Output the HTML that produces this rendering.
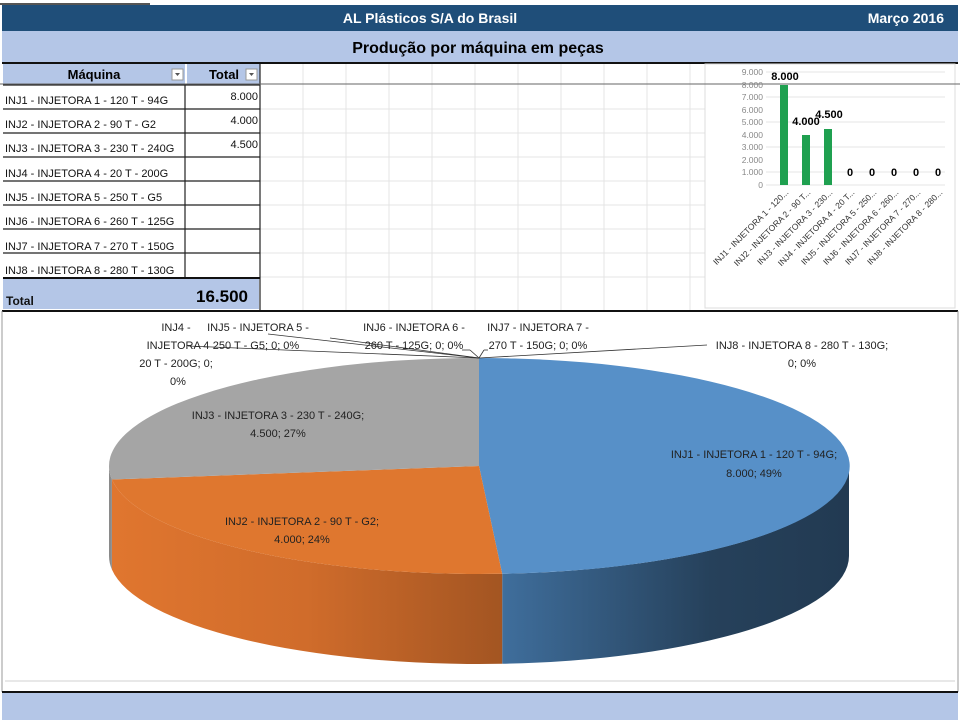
<!DOCTYPE html>
<html><head><meta charset="utf-8"><style>
body{margin:0;background:#fff;width:960px;height:720px;overflow:hidden;font-family:"Liberation Sans",sans-serif}
</style></head><body>
<svg width="960" height="720" xmlns="http://www.w3.org/2000/svg" font-family="Liberation Sans, sans-serif">
<defs>
<linearGradient id="bs" x1="502" x2="849" gradientUnits="userSpaceOnUse" y1="0" y2="0"><stop offset="0" stop-color="#3f6e9c"/><stop offset="0.6" stop-color="#26415b"/><stop offset="1" stop-color="#223a52"/></linearGradient>
<linearGradient id="os" x1="110" x2="502" gradientUnits="userSpaceOnUse" y1="0" y2="0"><stop offset="0" stop-color="#e0762f"/><stop offset="0.5" stop-color="#d06c2b"/><stop offset="1" stop-color="#a35522"/></linearGradient>
</defs>
<rect width="960" height="720" fill="#fff"/>
<line x1="0" y1="4" x2="150" y2="4" stroke="#555" stroke-width="2"/>
<rect x="2" y="5" width="956" height="26" fill="#1f4e79"/>
<text x="430" y="23" fill="#fff" font-size="14" font-weight="bold" text-anchor="middle">AL Plásticos S/A do Brasil</text>
<text x="944" y="23" fill="#fff" font-size="14" font-weight="bold" text-anchor="end">Março  2016</text>
<rect x="2" y="31" width="956" height="32" fill="#b4c6e7"/>
<text x="478" y="53" fill="#000" font-size="16" font-weight="bold" text-anchor="middle">Produção por máquina em peças</text>
<line x1="2" y1="63" x2="958" y2="63" stroke="#111" stroke-width="2"/>
<!-- grid -->
<g stroke="#e4e4e4" stroke-width="1">
<line x1="303" y1="64" x2="303" y2="310"/><line x1="346" y1="64" x2="346" y2="310"/><line x1="389" y1="64" x2="389" y2="310"/><line x1="432" y1="64" x2="432" y2="310"/><line x1="475" y1="64" x2="475" y2="310"/><line x1="518" y1="64" x2="518" y2="310"/><line x1="561" y1="64" x2="561" y2="310"/><line x1="604" y1="64" x2="604" y2="310"/><line x1="647" y1="64" x2="647" y2="310"/><line x1="690" y1="64" x2="690" y2="310"/>
<line x1="260" y1="109" x2="705" y2="109"/><line x1="260" y1="133" x2="705" y2="133"/><line x1="260" y1="157" x2="705" y2="157"/><line x1="260" y1="181" x2="705" y2="181"/><line x1="260" y1="205" x2="705" y2="205"/><line x1="260" y1="229" x2="705" y2="229"/><line x1="260" y1="253" x2="705" y2="253"/><line x1="260" y1="277" x2="705" y2="277"/>
</g>
<!-- table -->
<rect x="3" y="64" width="182" height="20" fill="#b4c6e7"/>
<rect x="187" y="64" width="73" height="20" fill="#b4c6e7"/>
<text x="94" y="79" font-size="13" font-weight="bold" text-anchor="middle">Máquina</text>
<text x="224" y="79" font-size="13" font-weight="bold" text-anchor="middle">Total</text>
<rect x="172" y="69" width="11" height="11" fill="#fff" stroke="#999"/><path d="M175 73 L180 73 L177.5 76Z" fill="#555"/>
<rect x="246" y="69" width="11" height="11" fill="#fff" stroke="#999"/><path d="M249 73 L254 73 L251.5 76Z" fill="#555"/>
<g stroke="#222" stroke-width="1.2">
<line x1="3" y1="85" x2="260" y2="85"/><line x1="3" y1="109" x2="260" y2="109"/><line x1="3" y1="133" x2="260" y2="133"/><line x1="3" y1="157" x2="260" y2="157"/><line x1="3" y1="181" x2="260" y2="181"/><line x1="3" y1="205" x2="260" y2="205"/><line x1="3" y1="229" x2="260" y2="229"/><line x1="3" y1="253" x2="260" y2="253"/>
<line x1="185" y1="85" x2="185" y2="277"/><line x1="260" y1="64" x2="260" y2="310"/>
</g>
<line x1="3" y1="278" x2="260" y2="278" stroke="#111" stroke-width="2"/>
<rect x="3" y="279" width="256" height="30" fill="#b4c6e7"/>
<g font-size="11" fill="#111">
<text x="5" y="104">INJ1 - INJETORA 1 - 120 T - 94G</text>
<text x="5" y="128">INJ2 - INJETORA 2  - 90 T - G2</text>
<text x="5" y="152">INJ3 - INJETORA 3 - 230 T - 240G</text>
<text x="5" y="177">INJ4 - INJETORA 4 - 20 T - 200G</text>
<text x="5" y="201">INJ5 - INJETORA 5 - 250 T -  G5</text>
<text x="5" y="225">INJ6 - INJETORA 6 - 260 T - 125G</text>
<text x="5" y="250">INJ7 - INJETORA 7 - 270 T - 150G</text>
<text x="5" y="274">INJ8 - INJETORA 8 - 280 T - 130G</text>
<text x="258" y="100" text-anchor="end">8.000</text>
<text x="258" y="124" text-anchor="end">4.000</text>
<text x="258" y="148" text-anchor="end">4.500</text>
<text x="6" y="305" font-weight="bold" font-size="12">Total</text>
</g>
<text x="248" y="302" font-size="17" font-weight="bold" text-anchor="end">16.500</text>
<line x1="2" y1="311" x2="958" y2="311" stroke="#111" stroke-width="2"/>
<!-- bar chart -->
<rect x="705" y="64" width="250" height="244" fill="#fff" stroke="#ddd"/>
<line x1="0" y1="84" x2="960" y2="84" stroke="#666" stroke-width="1"/>
<g stroke="#e6e6e6"><line x1="766" y1="72" x2="945" y2="72"/><line x1="766" y1="97" x2="945" y2="97"/><line x1="766" y1="122" x2="945" y2="122"/><line x1="766" y1="147" x2="945" y2="147"/><line x1="766" y1="172" x2="945" y2="172"/><line x1="766" y1="185" x2="945" y2="185"/></g>
<g font-size="8.5" fill="#888" text-anchor="end">
<text x="763" y="75">9.000</text><text x="763" y="88">8.000</text><text x="763" y="100">7.000</text><text x="763" y="113">6.000</text><text x="763" y="125">5.000</text><text x="763" y="138">4.000</text><text x="763" y="150">3.000</text><text x="763" y="163">2.000</text><text x="763" y="175">1.000</text><text x="763" y="188">0</text>
</g>
<rect x="780" y="85" width="8" height="100" fill="#1fa050"/>
<rect x="802" y="135" width="8" height="50" fill="#1fa050"/>
<rect x="824" y="129" width="8" height="56" fill="#1fa050"/>
<g font-size="11" font-weight="bold" text-anchor="middle">
<text x="785" y="80">8.000</text><text x="806" y="125">4.000</text><text x="829" y="118">4.500</text>
<text x="850" y="176">0</text><text x="872" y="176">0</text><text x="894" y="176">0</text><text x="916" y="176">0</text><text x="938" y="176">0</text>
</g>
<g font-size="8.5" fill="#333" text-anchor="end">
<text transform="translate(789,193) rotate(-45)">INJ1 - INJETORA 1 - 120...</text>
<text transform="translate(811,193) rotate(-45)">INJ2 - INJETORA 2 - 90 T...</text>
<text transform="translate(833,193) rotate(-45)">INJ3 - INJETORA 3 - 230...</text>
<text transform="translate(855,193) rotate(-45)">INJ4 - INJETORA 4 - 20 T...</text>
<text transform="translate(877,193) rotate(-45)">INJ5 - INJETORA 5 - 250...</text>
<text transform="translate(899,193) rotate(-45)">INJ6 - INJETORA 6 - 260...</text>
<text transform="translate(921,193) rotate(-45)">INJ7 - INJETORA 7 - 270...</text>
<text transform="translate(943,193) rotate(-45)">INJ8 - INJETORA 8 - 280...</text>
</g>
<!-- pie frame -->
<line x1="2" y1="311" x2="2" y2="692" stroke="#999"/><line x1="958" y1="311" x2="958" y2="692" stroke="#999"/>
<line x1="5" y1="681" x2="955" y2="681" stroke="#e8e8e8" stroke-width="2"/>
<!-- pie sides -->
<path d="M849,466 A370,108 0 0 1 502.2,573.8 L502.2,663.8 A370,108 0 0 0 849,556 Z" fill="url(#bs)"/>
<path d="M502.2,573.8 A370,108 0 0 1 111.9,479.5 L111.9,569.5 A370,108 0 0 0 502.2,663.8 Z" fill="url(#os)"/>
<path d="M111.9,479.5 A370,108 0 0 1 109,466 L109,556 A370,108 0 0 0 111.9,569.5 Z" fill="#8a8a8a"/>
<!-- pie top -->
<path d="M479,466 L479,358 A370,108 0 0 1 502.2,573.8 Z" fill="#5790c8"/>
<path d="M479,466 L502.2,573.8 A370,108 0 0 1 111.9,479.5 Z" fill="#df772f"/>
<path d="M479,466 L111.9,479.5 A370,108 0 0 1 479,358 Z" fill="#a5a5a5"/>
<!-- leader lines -->
<g stroke="#333" stroke-width="0.8" fill="none">
<line x1="479" y1="358" x2="188" y2="346"/>
<line x1="479" y1="358" x2="268" y2="334"/>
<line x1="479" y1="358" x2="330" y2="338"/>
<line x1="479" y1="358" x2="470" y2="350"/><line x1="470" y1="350" x2="462" y2="350"/>
<line x1="479" y1="358" x2="484" y2="350"/><line x1="484" y1="350" x2="488" y2="350"/>
<line x1="479" y1="358" x2="707" y2="345"/>
</g>
<g font-size="11" fill="#222" text-anchor="middle">
<text x="176" y="331">INJ4 -</text>
<text x="178" y="349">INJETORA 4</text>
<text x="176" y="367">20 T - 200G; 0;</text>
<text x="178" y="385">0%</text>
<text x="258" y="331">INJ5 - INJETORA 5 -</text>
<text x="256" y="349">250 T -  G5; 0; 0%</text>
<text x="414" y="331">INJ6 - INJETORA 6 -</text>
<text x="414" y="349">260 T - 125G; 0; 0%</text>
<text x="538" y="331">INJ7 - INJETORA 7 -</text>
<text x="538" y="349">270 T - 150G; 0; 0%</text>
<text x="802" y="349">INJ8 - INJETORA 8 - 280 T - 130G;</text>
<text x="802" y="367">0; 0%</text>
<text x="278" y="419">INJ3 - INJETORA 3 - 230 T - 240G;</text>
<text x="278" y="437">4.500; 27%</text>
<text x="302" y="525">INJ2 - INJETORA 2  - 90 T - G2;</text>
<text x="302" y="543">4.000; 24%</text>
<text x="754" y="458">INJ1 - INJETORA 1 - 120 T - 94G;</text>
<text x="754" y="477">8.000; 49%</text>
</g>
<line x1="2" y1="692" x2="958" y2="692" stroke="#111" stroke-width="2"/>
<rect x="2" y="693" width="956" height="27" fill="#b4c6e7"/>
</svg>
</body></html>
